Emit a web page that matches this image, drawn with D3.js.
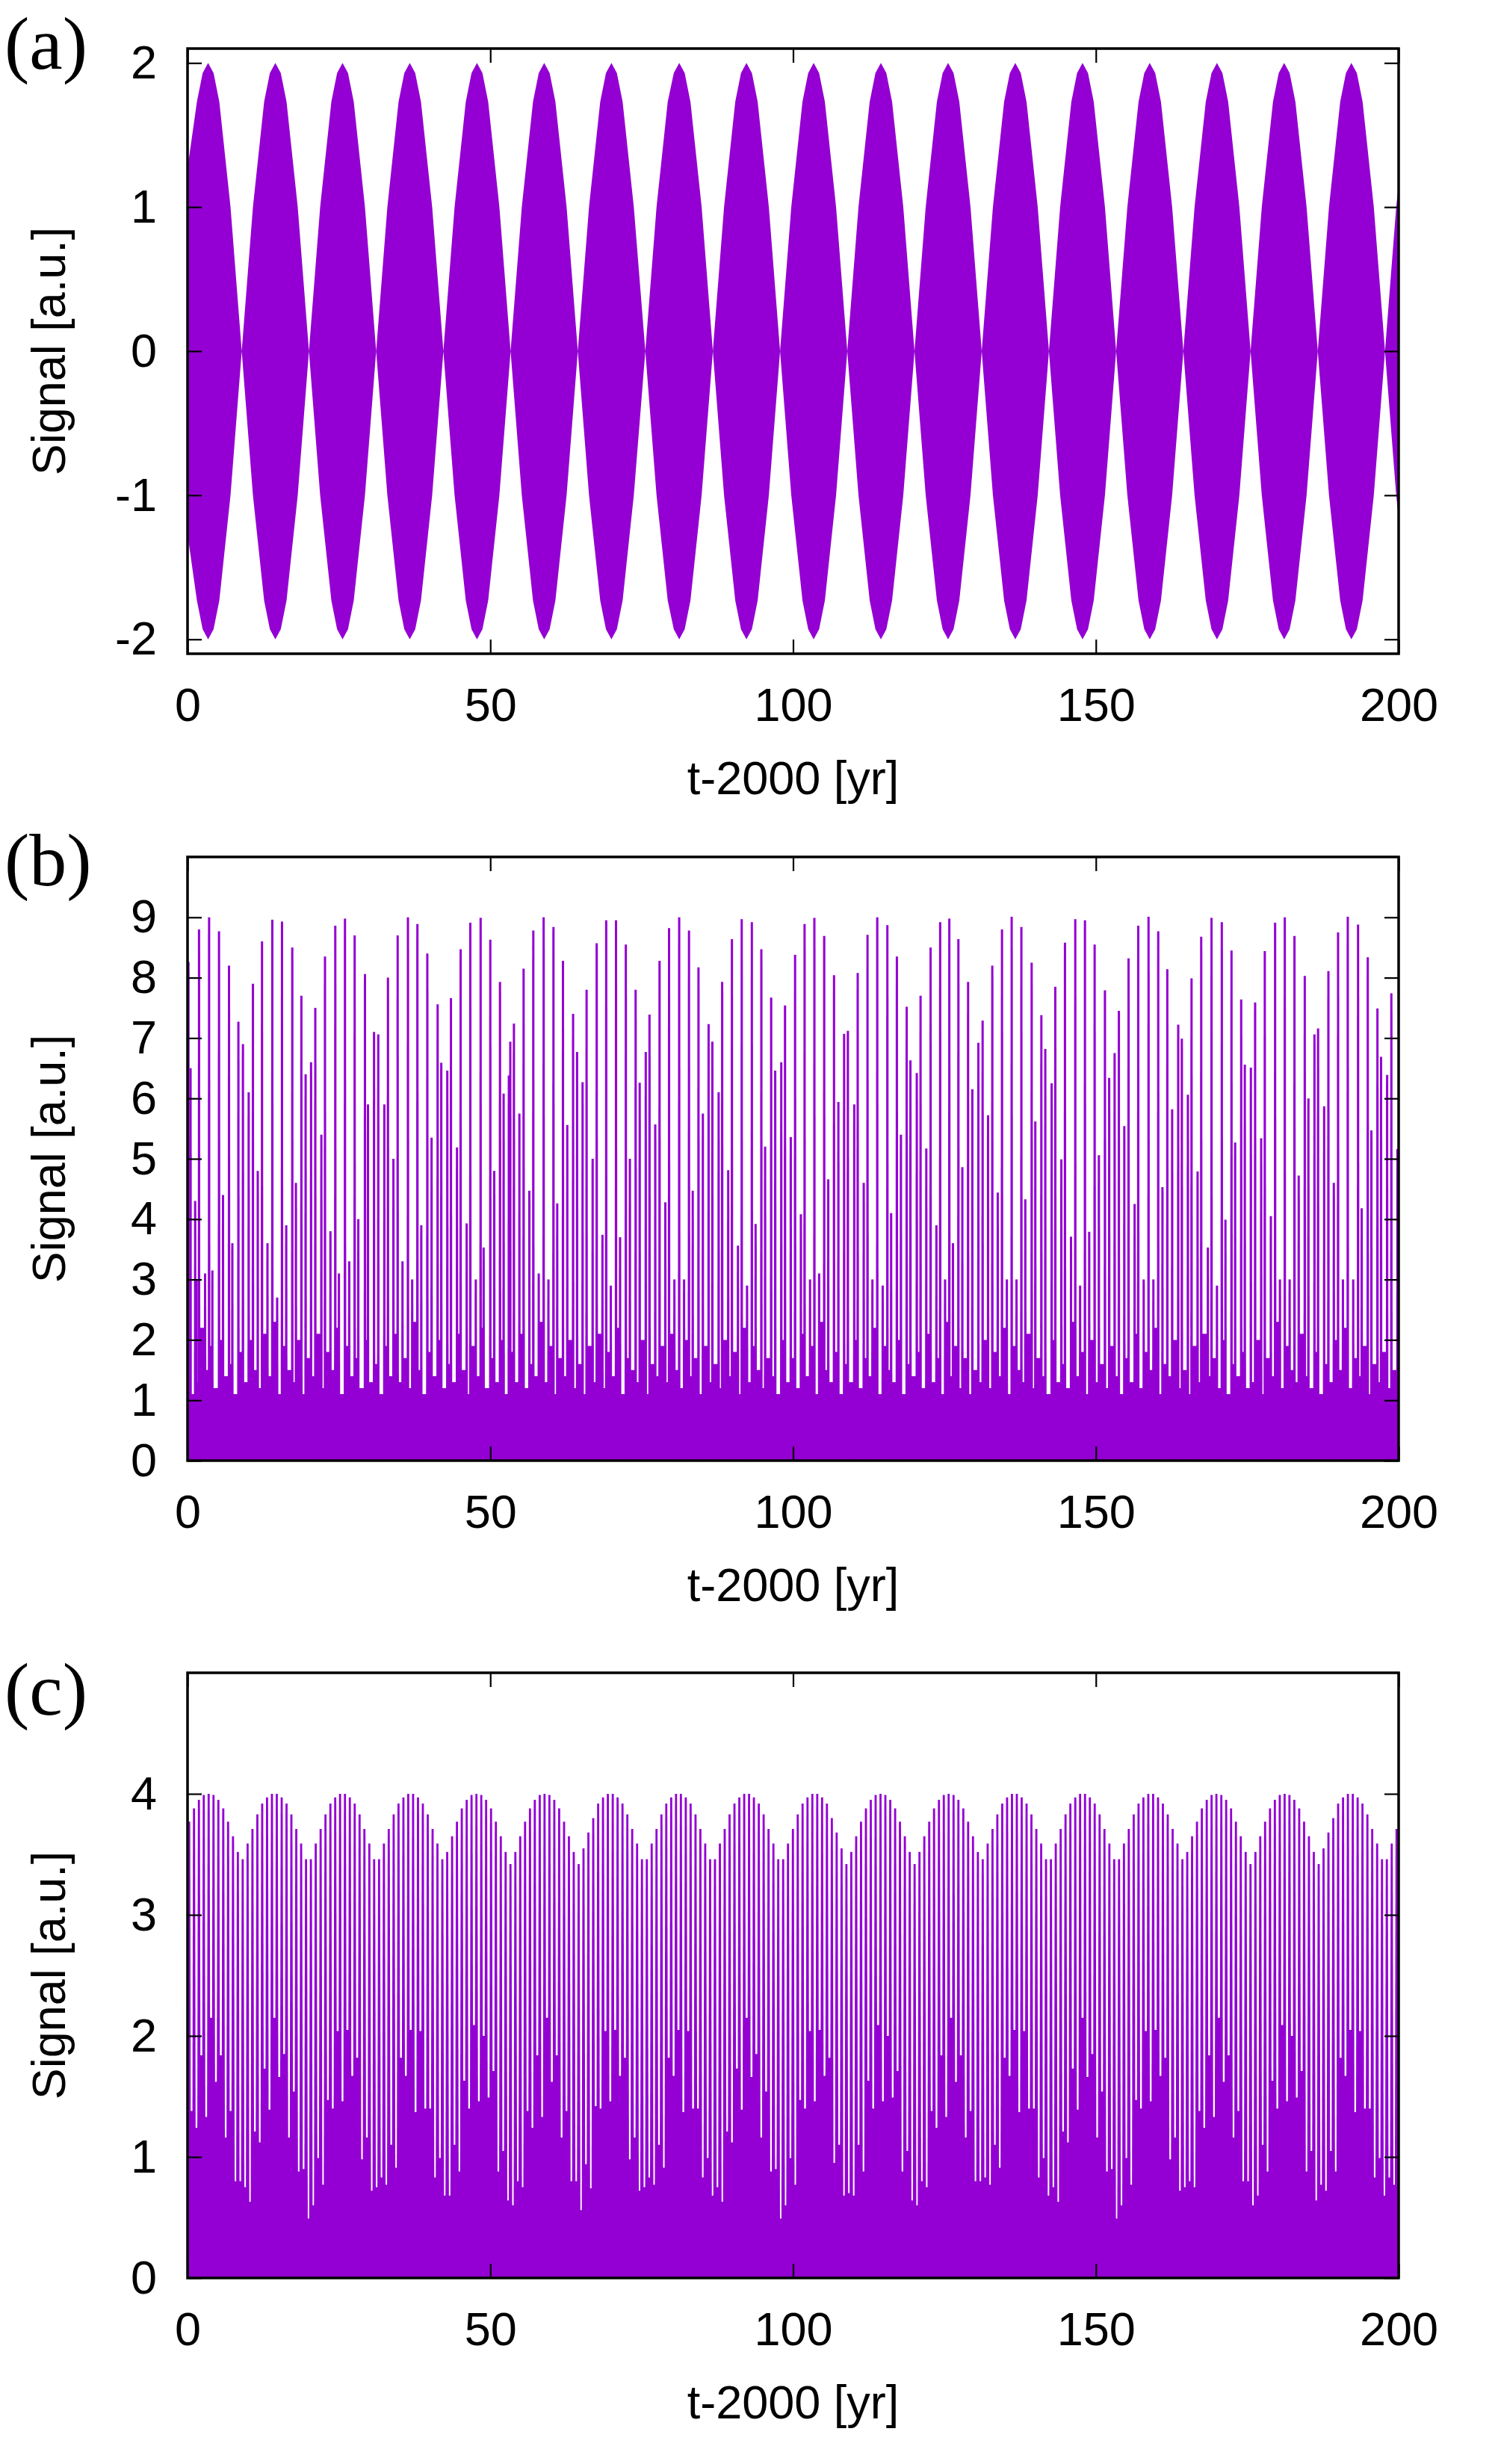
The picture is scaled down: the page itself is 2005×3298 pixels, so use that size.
<!DOCTYPE html>
<html>
<head>
<meta charset="utf-8">
<title>Signal panels</title>
<script src="https://d3js.org/d3.v7.min.js"></script>
<style>
  body { margin: 0; background: #fff; }
</style>
</head>
<body>
<svg id="chart" width="2005" height="3298"></svg>
<script>

// ---- data ----
var xTicks = [0, 50, 100, 150, 200];

// (a) envelope of the dense oscillation (filled symmetric about 0)
var aT = [0, 1.55, 2.5, 3.4, 4.3, 5.25, 7.1, 8.95,
  10.8, 12.65, 13.6, 14.5, 15.4, 16.35, 18.2, 20.05,
  21.9, 23.75, 24.7, 25.6, 26.5, 27.45, 29.3, 31.15,
  33.0, 34.85, 35.8, 36.7, 37.6, 38.55, 40.4, 42.25,
  44.1, 45.95, 46.9, 47.8, 48.7, 49.65, 51.5, 53.35,
  55.2, 57.05, 58.0, 58.9, 59.8, 60.75, 62.6, 64.45,
  66.3, 68.15, 69.1, 70.0, 70.9, 71.85, 73.7, 75.6,
  77.45, 79.3, 80.3, 81.2, 82.1, 83.05, 84.9, 86.75,
  88.6, 90.45, 91.4, 92.3, 93.2, 94.15, 96.0, 97.85,
  99.7, 101.55, 102.5, 103.4, 104.3, 105.25, 107.1, 108.95,
  110.8, 112.65, 113.6, 114.5, 115.4, 116.35, 118.2, 120.05,
  121.9, 123.75, 124.7, 125.6, 126.5, 127.45, 129.3, 131.15,
  133.0, 134.85, 135.8, 136.7, 137.6, 138.55, 140.4, 142.25,
  144.1, 145.95, 146.9, 147.8, 148.7, 149.65, 151.5, 153.35,
  155.2, 157.05, 158.0, 158.9, 159.8, 160.75, 162.6, 164.45,
  166.3, 168.15, 169.1, 170.0, 170.9, 171.85, 173.7, 175.55,
  177.4, 179.25, 180.2, 181.1, 182.0, 182.95, 184.8, 186.65,
  188.5, 190.35, 191.3, 192.2, 193.1, 194.05, 195.9, 197.75,
  199.6, 200];
var aEnv = [1.27, 1.73, 1.93, 2.0, 1.93, 1.73, 1.0, 0,
  1.0, 1.73, 1.93, 2.0, 1.93, 1.73, 1.0, 0,
  1.0, 1.73, 1.93, 2.0, 1.93, 1.73, 1.0, 0,
  1.0, 1.73, 1.93, 2.0, 1.93, 1.73, 1.0, 0,
  1.0, 1.73, 1.93, 2.0, 1.93, 1.73, 1.0, 0,
  1.0, 1.73, 1.93, 2.0, 1.93, 1.73, 1.0, 0,
  1.0, 1.73, 1.93, 2.0, 1.93, 1.73, 1.0, 0,
  1.0, 1.73, 1.93, 2.0, 1.93, 1.73, 1.0, 0,
  1.0, 1.73, 1.93, 2.0, 1.93, 1.73, 1.0, 0,
  1.0, 1.73, 1.93, 2.0, 1.93, 1.73, 1.0, 0,
  1.0, 1.73, 1.93, 2.0, 1.93, 1.73, 1.0, 0,
  1.0, 1.73, 1.93, 2.0, 1.93, 1.73, 1.0, 0,
  1.0, 1.73, 1.93, 2.0, 1.93, 1.73, 1.0, 0,
  1.0, 1.73, 1.93, 2.0, 1.93, 1.73, 1.0, 0,
  1.0, 1.73, 1.93, 2.0, 1.93, 1.73, 1.0, 0,
  1.0, 1.73, 1.93, 2.0, 1.93, 1.73, 1.0, 0,
  1.0, 1.73, 1.93, 2.0, 1.93, 1.73, 1.0, 0,
  1.0, 1.73, 1.93, 2.0, 1.93, 1.73, 1.0, 0,
  1.0, 1.16];

// (b) spikes: times, peak heights, and the filled level in the gap after each spike
var bT = [0.15, 0.5, 1.26, 1.5, 1.9, 2.9, 3.56, 4.1, 5.2, 5.86, 6.85, 7.4, 8.4, 9.15, 10.1, 10.8,
  11.6, 12.3, 13.2, 14.0, 14.8, 15.6, 16.3, 17.3, 17.9, 18.8, 19.5, 20.4, 21.1, 22.1, 22.7,
  23.6, 24.4, 25.0, 26.0, 26.7, 27.6, 28.2, 29.3, 29.8, 30.8, 31.5, 32.5, 33.1, 34.0, 34.7,
  35.5, 36.4, 37.1, 37.96, 38.6, 39.6, 40.3, 41.3, 41.9, 42.9, 43.5, 44.5, 45.1, 46.1, 46.7,
  47.6, 48.4, 48.9, 50.0, 50.65, 51.6, 52.2, 53.06, 53.3, 53.9, 54.8, 55.5, 56.45, 57.1,
  58.0, 58.81, 59.6, 60.43, 61.05, 62.0, 62.71, 63.67, 64.33, 65.24, 65.9, 66.9, 67.57,
  68.52, 69.14, 69.9, 70.76, 71.43, 72.38, 73.05, 74.0, 74.67, 75.67, 76.29, 77.24, 77.95,
  78.9, 79.52, 80.4, 81.19, 82.0, 82.81, 83.43, 84.38, 85.1, 86.05, 86.67, 87.71, 88.29,
  89.29, 89.9, 90.9, 91.52, 92.4, 93.19, 93.81, 94.76, 95.38, 96.38, 97.05, 98.05, 98.67,
  99.62, 100.33, 101.29, 101.9, 102.8, 103.52, 104.3, 105.14, 105.81, 106.76, 107.48,
  108.43, 109.05, 110.1, 110.67, 111.67, 112.29, 113.1, 113.9, 114.8, 115.57, 116.19,
  117.14, 117.81, 118.76, 119.38, 120.43, 121.05, 122.0, 122.71, 123.67, 124.29, 125.1,
  125.8, 126.4, 127.3, 127.95, 128.9, 129.6, 130.6, 131.3, 132.2, 132.9, 133.8, 134.5,
  135.3, 136.1, 136.9, 137.7, 138.35, 139.4, 140.0, 141.0, 141.65, 142.7, 143.3, 144.3,
  144.9, 145.9, 146.6, 147.4, 148.2, 148.9, 149.8, 150.5, 151.5, 152.2, 153.1, 153.8,
  154.7, 155.4, 156.4, 157.0, 157.9, 158.7, 159.5, 160.3, 161.0, 161.8, 162.6, 163.6,
  164.2, 165.2, 165.8, 166.8, 167.4, 168.5, 169.1, 170.0, 170.8, 171.4, 172.4, 173.0,
  174.0, 174.6, 175.6, 176.3, 177.3, 177.9, 178.9, 179.6, 180.4, 181.2, 182.0, 182.8,
  183.5, 184.5, 185.1, 186.1, 186.7, 187.7, 188.4, 189.3, 190.0, 190.8, 191.6, 192.5,
  193.3, 193.9, 194.9, 195.5, 196.5, 197.1, 198.1, 198.8, 199.8];
var bV = [8.26, 6.5, 4.3, 3.0, 8.8, 3.1, 9.0, 3.15, 8.77, 4.4, 8.2, 3.6, 7.27, 6.9, 6.1, 7.9,
  4.8, 8.6, 3.6, 8.96, 2.7, 8.93, 3.9, 8.5, 4.6, 7.7, 6.4, 6.6, 7.5, 5.4, 8.35,
  3.8, 8.86, 3.1, 8.98, 3.3, 8.7, 4.0, 8.06, 5.9, 7.1, 7.06, 5.9, 8.0, 5.0, 8.7,
  3.3, 9.0, 3.0, 8.89, 3.9, 8.4, 5.35, 7.56, 6.59, 6.46, 7.66, 5.19, 8.47, 3.93, 8.91,
  3.0, 8.99, 3.53, 8.63, 4.8, 7.93, 6.08, 6.38, 6.94, 7.24, 5.75, 8.15, 4.47, 8.78,
  3.1, 9.0, 3.0, 8.84, 4.26, 8.28, 5.56, 7.4, 6.77, 6.27, 7.8, 5.0, 8.57,
  3.74, 8.95, 2.9, 8.95, 3.7, 8.55, 5.0, 7.8, 6.26, 6.77, 7.39, 5.57, 8.28,
  4.28, 8.82, 3.0, 9.0, 3.0, 8.78, 4.47, 8.17, 5.75, 7.23, 6.94, 6.1, 7.93,
  4.81, 8.64, 3.56, 8.97, 2.9, 8.92, 3.92, 8.47, 5.2, 7.67, 6.46, 6.6, 7.54,
  5.36, 8.38, 4.08, 8.89, 3.0, 8.99, 3.1, 8.69, 4.66, 8.04, 5.94,
  7.07, 7.12, 5.9, 8.08, 4.6, 8.71, 3.0, 9.0, 2.9, 8.87, 4.1,
  8.35, 5.4, 7.52, 6.63, 6.42, 7.7, 5.17, 8.5, 3.9, 8.92, 3.0,
  8.98, 3.6, 8.64, 4.86, 7.93, 6.15, 6.92, 7.29, 5.72, 8.2, 4.44, 8.8,
  3.0, 9.01, 3.0, 8.84, 4.33, 8.25, 5.62, 7.38, 6.82, 6.25, 7.85, 4.99,
  8.58, 3.71, 8.97, 2.9, 8.95, 3.79, 8.55, 5.06, 7.79, 6.34, 6.75, 7.45,
  5.54, 8.32, 4.25, 8.86, 3.0, 9.01, 3.0, 8.77, 4.53, 8.14, 5.82, 7.22,
  6.99, 6.06, 7.99, 4.79, 8.68, 3.53, 8.99, 2.9, 8.92, 3.99, 8.45, 5.27,
  7.64, 6.56, 6.51, 7.59, 5.34, 8.44, 4.05, 8.91, 3.0, 9.0, 3.0, 8.69,
  4.72, 8.03, 6.0, 7.06, 7.16, 5.87, 8.11, 4.6, 8.75, 3.0, 9.01, 3.0,
  8.88, 4.18, 8.34, 5.47, 7.49, 6.69, 6.39, 7.74, 5.16];
var bGap = [1.4, 1.1, 1.7, 1.3, 2.2, 1.5, 1.9, 1.2, 2.0, 1.4, 1.6, 1.1, 1.8, 1.3, 2.0, 1.5,
  1.2, 2.1, 1.4, 2.3, 1.1, 1.9, 1.5, 1.3, 2.0, 1.1, 1.7, 1.4, 2.1, 1.2, 1.8,
  1.5, 2.2, 1.1, 1.9, 1.4, 1.7, 1.2, 2.0, 1.3, 1.6, 1.1, 1.9, 1.4, 2.1, 1.3,
  1.7, 1.2, 2.3, 1.5, 1.1, 1.8, 1.4, 2.0, 1.2, 1.6, 1.3, 2.1, 1.5, 1.1, 1.9,
  1.4, 2.2, 1.2, 1.7, 1.3, 2.0, 1.1, 1.5, 1.8, 1.3, 2.1, 1.2, 1.6, 1.4,
  2.3, 1.3, 1.9, 1.1, 1.7, 1.4, 2.0, 1.2, 1.6, 1.1, 1.9, 1.3, 2.1,
  1.2, 1.8, 1.4, 2.2, 1.1, 1.7, 1.5, 1.3, 2.0, 1.1, 1.6, 1.4, 1.9,
  1.3, 2.1, 1.5, 1.2, 2.0, 1.4, 1.7, 1.1, 1.9, 1.3, 1.6, 1.2, 2.0,
  1.4, 1.8, 1.1, 2.2, 1.3, 1.9, 1.5, 1.2, 1.7, 1.4, 1.1, 2.0, 1.3,
  1.7, 1.2, 2.1, 1.4, 1.9, 1.1, 2.3, 1.5, 1.3, 1.8, 1.1,
  1.6, 1.3, 2.0, 1.2, 1.7, 1.4, 2.2, 1.1, 1.9, 1.5, 1.3,
  2.0, 1.1, 1.6, 1.4, 1.8, 1.2, 2.1, 1.3, 1.7, 1.1, 2.3,
  1.4, 1.9, 1.2, 1.7, 1.1, 1.5, 1.3, 2.0, 1.2, 1.8, 1.4, 2.2,
  1.1, 1.9, 1.5, 1.3, 2.1, 1.2, 1.7, 1.4, 1.1, 2.0, 1.3, 1.6,
  1.2, 2.3, 1.4, 1.8, 1.1, 2.0, 1.3, 1.6, 1.2, 1.9, 1.4, 1.1,
  1.7, 1.3, 2.1, 1.2, 1.8, 1.5, 2.2, 1.1, 1.6, 1.4, 2.0, 1.2,
  1.5, 1.1, 1.9, 1.3, 2.1, 1.4, 1.7, 1.2, 2.0, 1.1, 1.6, 1.4,
  1.8, 1.2, 1.3, 2.0, 1.1, 1.7, 1.4, 2.3, 1.2, 1.9, 1.5, 1.3,
  2.1, 1.4, 1.2, 1.8, 1.1, 1.6, 1.3, 2.0, 1.5, 2.2, 1.2, 1.7,
  1.4, 1.9, 1.1, 1.6, 1.3, 1.8, 1.2, 1.5, 1.3];

// (c) comb of spikes: times, peak heights, and the filled level in the gap after each spike
var cT = [0.27, 1.07, 1.88, 2.68, 3.49, 4.29, 5.09, 5.90, 6.70, 7.51, 8.31, 9.11, 9.92, 10.72,
  11.53, 12.33, 13.13, 13.94, 14.74, 15.55, 16.35, 17.15, 17.96, 18.76, 19.57, 20.37, 21.17,
  21.98, 22.78, 23.59, 24.39, 25.19, 26.00, 26.80, 27.61, 28.41, 29.21, 30.02, 30.82, 31.63,
  32.43, 33.23, 34.04, 34.84, 35.65, 36.45, 37.25, 38.06, 38.86, 39.67, 40.47, 41.27, 42.08,
  42.88, 43.69, 44.49, 45.29, 46.10, 46.90, 47.71, 48.51, 49.31, 50.12, 50.92, 51.73, 52.53,
  53.33, 54.14, 54.94, 55.74, 56.55, 57.35, 58.16, 58.96, 59.76, 60.57, 61.37, 62.18, 62.98,
  63.78, 64.59, 65.39, 66.20, 67.00, 67.81, 68.61, 69.41, 70.22, 71.02, 71.83, 72.63, 73.43,
  74.24, 75.04, 75.85, 76.65, 77.45, 78.26, 79.06, 79.87, 80.67, 81.47, 82.28, 83.08, 83.89,
  84.69, 85.49, 86.30, 87.10, 87.91, 88.71, 89.51, 90.32, 91.12, 91.93, 92.73, 93.53, 94.34,
  95.14, 95.95, 96.75, 97.55, 98.36, 99.16, 99.97, 100.77, 101.57, 102.38, 103.18, 103.99,
  104.79, 105.59, 106.40, 107.20, 108.01, 108.81, 109.61, 110.42, 111.22, 112.03, 112.83,
  113.63, 114.44, 115.24, 116.05, 116.85, 117.65, 118.46, 119.26, 120.07, 120.87, 121.67,
  122.48, 123.28, 124.09, 124.89, 125.69, 126.50, 127.30, 128.11, 128.91, 129.71, 130.52,
  131.32, 132.13, 132.93, 133.73, 134.54, 135.34, 136.15, 136.95, 137.75, 138.56, 139.36,
  140.17, 140.97, 141.77, 142.58, 143.38, 144.19, 144.99, 145.79, 146.60, 147.40, 148.21,
  149.01, 149.81, 150.62, 151.42, 152.23, 153.03, 153.83, 154.64, 155.44, 156.25, 157.05,
  157.85, 158.66, 159.46, 160.27, 161.07, 161.87, 162.68, 163.48, 164.29, 165.09, 165.89,
  166.70, 167.50, 168.31, 169.11, 169.91, 170.72, 171.52, 172.33, 173.13, 173.93, 174.74,
  175.54, 176.35, 177.15, 177.95, 178.76, 179.56, 180.37, 181.17, 181.97, 182.78, 183.58,
  184.39, 185.19, 185.99, 186.80, 187.60, 188.41, 189.21, 190.01, 190.82, 191.62, 192.43,
  193.23, 194.03, 194.84, 195.64, 196.45, 197.25, 198.05, 198.86, 199.66];
var cV = [3.77, 3.88, 3.95, 3.99, 4.00, 3.99, 3.95, 3.88, 3.77, 3.65, 3.52,
  3.46, 3.59, 3.71, 3.83, 3.92, 3.97, 4.00, 4.00, 3.97, 3.92, 3.83, 3.71, 3.59, 3.46,
  3.46, 3.59, 3.71, 3.83, 3.92, 3.97, 4.00, 4.00, 3.97, 3.92, 3.83, 3.71, 3.59, 3.46,
  3.46, 3.59, 3.71, 3.83, 3.92, 3.97, 4.00, 4.00, 3.97, 3.92, 3.83, 3.71, 3.59, 3.46,
  3.52, 3.65, 3.77, 3.88, 3.95, 3.99, 4.00, 3.99, 3.95, 3.88, 3.77, 3.65, 3.52, 3.42,
  3.52, 3.65, 3.77, 3.88, 3.95, 3.99, 4.00, 3.99, 3.95, 3.88, 3.77, 3.65, 3.52,
  3.42, 3.55, 3.68, 3.80, 3.92, 3.97, 4.00, 4.00, 3.97, 3.92, 3.83, 3.71, 3.59, 3.46,
  3.46, 3.59, 3.71, 3.83, 3.92, 3.97, 4.00, 4.00, 3.97, 3.92, 3.83, 3.71, 3.59, 3.46,
  3.46, 3.59, 3.71, 3.83, 3.92, 3.97, 4.00, 4.00, 3.97, 3.92, 3.83, 3.71, 3.59, 3.46,
  3.46, 3.59, 3.71, 3.83, 3.92, 3.97, 4.00, 4.00, 3.97, 3.92, 3.80, 3.68, 3.55, 3.42,
  3.52, 3.65, 3.77, 3.88, 3.95, 3.99, 4.00, 3.99, 3.95, 3.88, 3.77, 3.65, 3.52,
  3.42, 3.52, 3.65, 3.77, 3.88, 3.95, 3.99, 4.00, 3.99, 3.95, 3.88, 3.77, 3.65, 3.52,
  3.46, 3.59, 3.71, 3.83, 3.92, 3.97, 4.00, 4.00, 3.97, 3.92, 3.83, 3.71, 3.59, 3.46,
  3.46, 3.59, 3.71, 3.83, 3.92, 3.97, 4.00, 4.00, 3.97, 3.92, 3.83, 3.71, 3.59, 3.46,
  3.46, 3.59, 3.71, 3.83, 3.92, 3.97, 4.00, 4.00, 3.97, 3.92, 3.83, 3.71, 3.59, 3.46,
  3.52, 3.65, 3.77, 3.88, 3.95, 3.99, 4.00, 3.99, 3.95, 3.88, 3.77, 3.65, 3.52,
  3.42, 3.52, 3.65, 3.77, 3.88, 3.95, 3.99, 4.00, 3.99, 3.95, 3.88, 3.77, 3.65, 3.52,
  3.42, 3.55, 3.68, 3.80, 3.92, 3.97, 4.00, 4.00, 3.97, 3.92, 3.83, 3.71, 3.59, 3.46,
  3.46, 3.59, 3.71];
var cGap = [1.38, 1.24, 1.84, 1.33, 2.15, 1.62, 1.84, 1.16, 1.38, 0.8, 0.8,
  0.75, 0.63, 1.21, 1.12, 1.73, 1.39, 2.15, 1.66, 1.85, 1.16, 1.54, 0.88, 0.9, 0.49,
  0.6, 0.99, 0.77, 1.47, 1.4, 2.04, 1.46, 2.05, 1.67, 1.82, 0.98, 1.16, 0.72, 0.75,
  0.83, 0.77, 1.1, 0.91, 1.82, 1.67, 2.05, 1.37, 2.04, 1.4, 1.4, 0.83, 0.99, 0.68,
  0.68, 1.1, 0.88, 1.63, 1.4, 2.09, 1.46, 2.0, 1.49, 1.71, 0.88, 1.05, 0.64, 0.6,
  0.8, 0.75, 1.38, 1.24, 1.84, 1.33, 2.15, 1.62, 1.84, 1.16, 1.38, 0.8, 0.8,
  0.56, 0.94, 0.74, 1.42, 1.4, 2.04, 1.46, 2.05, 1.67, 1.82, 0.98, 1.16, 0.72, 0.75,
  0.83, 0.77, 1.1, 0.91, 1.82, 1.67, 2.05, 1.37, 2.04, 1.4, 1.4, 0.83, 0.99, 0.68,
  0.75, 0.63, 1.21, 1.12, 1.73, 1.39, 2.15, 1.66, 1.85, 1.16, 1.54, 0.88, 0.9, 0.49,
  0.6, 0.99, 0.77, 1.47, 1.4, 2.04, 1.46, 2.05, 1.67, 1.82, 0.95, 1.1, 0.68, 0.7,
  0.68, 1.1, 0.88, 1.63, 1.4, 2.09, 1.46, 2.0, 1.49, 1.71, 0.88, 1.05, 0.64,
  0.6, 0.8, 0.75, 1.38, 1.24, 1.84, 1.33, 2.15, 1.62, 1.84, 1.16, 1.38, 0.8, 0.8,
  0.83, 0.77, 1.1, 0.91, 1.82, 1.67, 2.05, 1.37, 2.04, 1.4, 1.4, 0.83, 0.99, 0.68,
  0.75, 0.63, 1.21, 1.12, 1.73, 1.39, 2.15, 1.66, 1.85, 1.16, 1.54, 0.88, 0.9, 0.49,
  0.6, 0.99, 0.77, 1.47, 1.4, 2.04, 1.46, 2.05, 1.67, 1.82, 0.98, 1.16, 0.72, 0.75,
  0.8, 0.75, 1.38, 1.24, 1.84, 1.33, 2.15, 1.62, 1.84, 1.16, 1.38, 0.8, 0.8,
  0.6, 0.68, 1.1, 0.88, 1.63, 1.4, 2.09, 1.46, 2.0, 1.49, 1.71, 0.88, 1.05, 0.64,
  0.77, 0.72, 1.05, 0.88, 1.82, 1.67, 2.05, 1.37, 2.04, 1.4, 1.4, 0.83, 0.99, 0.68,
  0.83, 0.77, 1.1];

// ---- drawing ----
var purple = "#9400d3";
var svg = d3.select("#chart");
svg.append("rect").attr("width", 2005).attr("height", 3298).attr("fill", "#fff");

var left = 251, right = 1872;
var x = d3.scaleLinear().domain([0, 200]).range([left, right]);
var sans = "'Liberation Sans', Arial, Helvetica, sans-serif";
var defs = svg.append("defs");
var plain = function(d) { return String(d); };

function makePanel(id, top, bottom, domain, yTicks, letter, letterY) {
  var y = d3.scaleLinear().domain(domain).range([bottom, top]);
  defs.append("clipPath").attr("id", "clip-" + id)
    .append("rect").attr("x", left).attr("y", top)
    .attr("width", right - left).attr("height", bottom - top);
  var g = svg.append("g");
  var plot = g.append("g").attr("clip-path", "url(#clip-" + id + ")");
  return { g: g, plot: plot, y: y, top: top, bottom: bottom, yTicks: yTicks, letter: letter, letterY: letterY };
}

function styleAxis(sel) {
  sel.attr("font-size", 63).attr("font-family", sans);
  sel.select(".domain").remove();
  sel.selectAll(".tick line").attr("stroke", "#000").attr("stroke-width", 2.2);
  sel.selectAll(".tick text").attr("fill", "#000");
}

function finishPanel(p) {
  var g = p.g, y = p.y;
  g.append("g").attr("transform", "translate(0," + p.bottom + ")")
    .call(d3.axisBottom(x).tickValues(xTicks).tickFormat(plain)
      .tickSizeInner(-19).tickSizeOuter(0).tickPadding(45))
    .call(styleAxis);
  g.append("g").attr("transform", "translate(0," + p.top + ")")
    .call(d3.axisTop(x).tickValues(xTicks).tickSizeInner(-19).tickSizeOuter(0).tickFormat(""))
    .call(styleAxis);
  g.append("g").attr("transform", "translate(" + left + ",0)")
    .call(d3.axisLeft(y).tickValues(p.yTicks).tickFormat(plain)
      .tickSizeInner(-19).tickSizeOuter(0).tickPadding(41))
    .call(styleAxis);
  g.append("g").attr("transform", "translate(" + right + ",0)")
    .call(d3.axisRight(y).tickValues(p.yTicks).tickSizeInner(-19).tickSizeOuter(0).tickFormat(""))
    .call(styleAxis);

  g.append("rect")
    .attr("x", left).attr("y", p.top)
    .attr("width", right - left).attr("height", p.bottom - p.top)
    .attr("fill", "none").attr("stroke", "#000").attr("stroke-width", 3.5);

  g.append("text")
    .attr("x", (left + right) / 2).attr("y", p.bottom + 188)
    .attr("text-anchor", "middle").attr("font-family", sans).attr("font-size", 63)
    .text("t-2000 [yr]");

  var cy = (p.top + p.bottom) / 2;
  g.append("text")
    .attr("transform", "translate(87," + cy + ") rotate(-90)")
    .attr("text-anchor", "middle").attr("font-family", sans).attr("font-size", 63)
    .text("Signal [a.u.]");

  g.append("text")
    .attr("x", 6).attr("y", p.letterY)
    .attr("font-family", "'Liberation Serif', 'Times New Roman', serif").attr("font-size", 100)
    .text(p.letter);
}

// gap fill: a step area that holds each gap's level until the next spike
function gapArea(p, ts, vs) {
  var pts = ts.map(function(t, i) { return { t: t, v: vs[i] }; })
    .filter(function(d) { return d.v !== undefined; });
  pts.push({ t: 200, v: pts[pts.length - 1].v });
  p.plot.append("path")
    .datum(pts)
    .attr("fill", purple)
    .attr("d", d3.area()
      .curve(d3.curveStepAfter)
      .x(function(d) { return x(d.t); })
      .y0(p.y(0))
      .y1(function(d) { return p.y(d.v); }));
}

// spikes drawn as slim trapezoids, slightly wider at the foot
function spikes(p, ts, vs, topW, footW) {
  var data = ts.map(function(t, i) { return { t: t, v: vs[i] }; })
    .filter(function(d) { return d.v !== undefined; });
  p.plot.selectAll(".spike")
    .data(data)
    .enter().append("path")
      .attr("class", "spike")
      .attr("fill", purple)
      .attr("d", function(d) {
        var xc = x(d.t), yt = p.y(d.v), yb = p.y(0);
        return "M" + (xc - footW / 2) + "," + yb +
               "L" + (xc - topW / 2) + "," + yt +
               "L" + (xc + topW / 2) + "," + yt +
               "L" + (xc + footW / 2) + "," + yb + "Z";
      });
}

// panel (a)
var pa = makePanel("a", 65, 875, [-2.1, 2.1], [-2, -1, 0, 1, 2], "(a)", 92);
var aData = aT.map(function(t, i) { return { t: t, v: aEnv[i] }; });
pa.plot.append("path")
  .datum(aData)
  .attr("fill", purple)
  .attr("d", d3.area()
    .x(function(d) { return x(d.t); })
    .y0(function(d) { return pa.y(-d.v); })
    .y1(function(d) { return pa.y(d.v); }));
finishPanel(pa);

// panel (b)
var pb = makePanel("b", 1147, 1955, [0, 10], d3.range(0, 10), "(b)", 1185);
pb.plot.append("rect")
  .attr("x", left).attr("width", x(bT[0]) - left)
  .attr("y", pb.y(bGap[0])).attr("height", pb.y(0) - pb.y(bGap[0]))
  .attr("fill", purple);
gapArea(pb, bT, bGap);
spikes(pb, bT, bV, 3.0, 3.4);
finishPanel(pb);

// panel (c)
var pc = makePanel("c", 2239, 3049, [0, 5], [0, 1, 2, 3, 4], "(c)", 2295);
pc.plot.append("rect")
  .attr("x", left).attr("width", x(cT[0]) - left)
  .attr("y", pc.y(cGap[0])).attr("height", pc.y(0) - pc.y(cGap[0]))
  .attr("fill", purple);
gapArea(pc, cT, cGap);
spikes(pc, cT, cV, 2.8, 5.0);
finishPanel(pc);

</script>
</body>
</html>
